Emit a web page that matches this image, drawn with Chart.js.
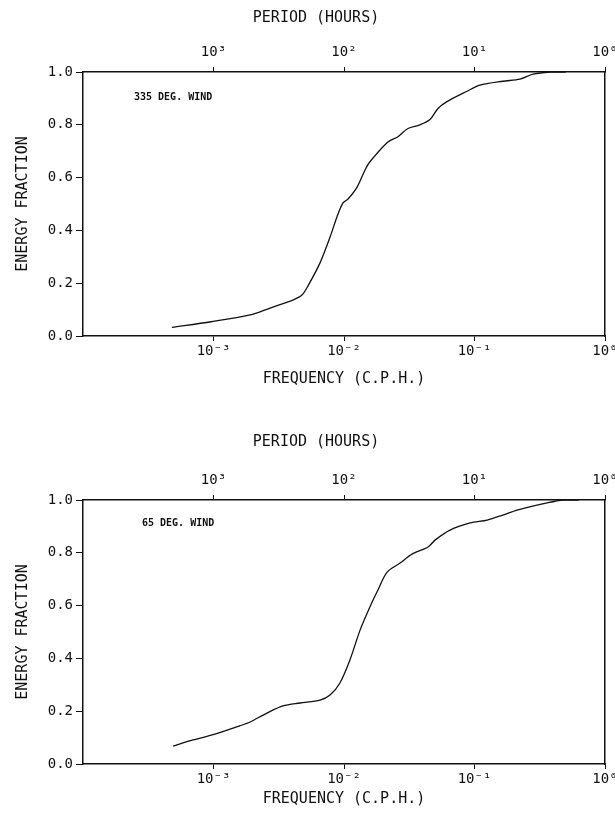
<!DOCTYPE html>
<html>
<head>
<meta charset="utf-8">
<script src="https://cdn.jsdelivr.net/npm/chart.js@4.4.1/dist/chart.umd.min.js"></script>
<style>
    html, body { margin: 0; padding: 0; background: #fff; }
    #wrap { position: relative; width: 615px; height: 820px; }
    canvas { position: absolute; left: 0; }
    #topChart { top: 0; }
    #bottomChart { top: 410px; }
</style>
</head>
<body>
<div id="wrap">
    <canvas id="topChart" width="615" height="410"></canvas>
    <canvas id="bottomChart" width="615" height="410"></canvas>
</div>

<script>
/* =========================
   DATA
========================= */

// 335 deg. wind : frequency (c.p.h.) / cumulative energy fraction
const freq335 = [0.00048, 0.00096, 0.001905, 0.00271, 0.00406, 0.00476, 0.0053, 0.00655, 0.00782,
    0.00883, 0.00982, 0.01074, 0.0126, 0.0145, 0.0158, 0.0217, 0.0259, 0.0309, 0.0382, 0.0456,
    0.0525, 0.0615, 0.0877, 0.110, 0.165, 0.223, 0.281, 0.379, 0.50];
const energy335 = [0.033, 0.054, 0.080, 0.106, 0.136, 0.155, 0.19, 0.277, 0.375,
    0.451, 0.504, 0.519, 0.564, 0.629, 0.66, 0.735, 0.755, 0.786, 0.80, 0.82,
    0.862, 0.888, 0.927, 0.95, 0.965, 0.973, 0.992, 1.0, 1.0];

// 65 deg. wind
const freq65 = [0.00049, 0.000697, 0.00101, 0.0016, 0.001905, 0.00257, 0.00341, 0.0046, 0.00655,
    0.00782, 0.00931, 0.0111, 0.0133, 0.0158, 0.0182, 0.0214, 0.0269, 0.0332, 0.0441,
    0.0498, 0.0649, 0.0925, 0.125, 0.165, 0.212, 0.36, 0.476, 0.63];
const energy65 = [0.068, 0.091, 0.112, 0.145, 0.159, 0.193, 0.22, 0.231, 0.242,
    0.261, 0.307, 0.394, 0.508, 0.595, 0.659, 0.727, 0.761, 0.795, 0.822,
    0.848, 0.886, 0.913, 0.924, 0.943, 0.962, 0.989, 1.0, 1.0];

// axis ticks
const freqTicks = [0.001, 0.01, 0.1, 1];
const freqLabels = ["10\u207B\u00B3", "10\u207B\u00B2", "10\u207B\u00B9", "10\u2070"];
const periodLabels = ["10\u00B3", "10\u00B2", "10\u00B9", "10\u2070"];
const energyTicks = [0, 0.2, 0.4, 0.6, 0.8, 1.0];

/* =========================
   SHARED STYLE
========================= */

const INK = "#111";
const MONO = "'DejaVu Sans Mono', 'Liberation Mono', monospace";

function textPlugin(title, titleY, note, noteDx, noteDy) {
    return {
        id: "texts",
        afterDraw(chart) {
            const ctx = chart.ctx;
            const area = chart.chartArea;
            ctx.save();
            ctx.fillStyle = INK;
            ctx.textBaseline = "middle";
            ctx.textAlign = "center";
            ctx.font = "15px " + MONO;
            ctx.fillText(title, 316, titleY);
            ctx.textAlign = "left";
            ctx.font = "bold 10px " + MONO;
            ctx.fillText(note, area.left + noteDx, area.top + noteDy);
            ctx.restore();
        }
    };
}

function makePanel(canvasId, xs, ys, sizes) {

    const points = xs.map((x, i) => ({ x: x, y: ys[i] }));

    return new Chart(document.getElementById(canvasId), {
        type: "line",
        data: {
            datasets: [{
                data: points,
                borderColor: INK,
                borderWidth: 1.3,
                pointRadius: 0,
                fill: false,
                tension: 0.3
            }]
        },
        options: {
            responsive: false,
            animation: false,
            devicePixelRatio: 1,
            layout: { padding: { left: 0, right: 10, top: 0, bottom: 0 } },
            plugins: { legend: { display: false }, tooltip: { enabled: false } },
            scales: {
                x: {
                    type: "logarithmic",
                    position: "bottom",
                    min: 0.0001,
                    max: 1,
                    afterBuildTicks: s => { s.ticks = freqTicks.map(v => ({ value: v })); },
                    afterFit: s => { s.height = sizes.bottom; s.paddingLeft = 0; s.paddingRight = 0; },
                    ticks: {
                        autoSkip: false,
                        maxRotation: 0,
                        padding: 2,
                        color: INK,
                        font: { family: MONO, size: 14 },
                        callback: (v, i) => freqLabels[i]
                    },
                    grid: { drawOnChartArea: false, tickLength: 5, color: INK, tickWidth: 1 },
                    border: { color: INK, width: 1.5 },
                    title: {
                        display: true,
                        text: "FREQUENCY (C.P.H.)",
                        color: INK,
                        font: { family: MONO, size: 15 },
                        padding: { top: 0, bottom: sizes.titlePad }
                    }
                },
                x2: {
                    type: "logarithmic",
                    position: "top",
                    min: 0.0001,
                    max: 1,
                    afterBuildTicks: s => { s.ticks = freqTicks.map(v => ({ value: v })); },
                    afterFit: s => { s.height = sizes.top; s.paddingLeft = 0; s.paddingRight = 0; },
                    ticks: {
                        autoSkip: false,
                        maxRotation: 0,
                        padding: 6,
                        color: INK,
                        font: { family: MONO, size: 14 },
                        callback: (v, i) => periodLabels[i]
                    },
                    grid: { drawOnChartArea: false, tickLength: 5, color: INK, tickWidth: 1 },
                    border: { color: INK, width: 1.5 }
                },
                y: {
                    type: "linear",
                    position: "left",
                    min: 0,
                    max: 1,
                    afterBuildTicks: s => { s.ticks = energyTicks.map(v => ({ value: v })); },
                    afterFit: s => { s.width = 83; },
                    ticks: {
                        padding: 3,
                        color: INK,
                        font: { family: MONO, size: 14 },
                        callback: v => v.toFixed(1)
                    },
                    grid: { drawOnChartArea: false, tickLength: 7, color: INK, tickWidth: 1 },
                    border: { color: INK, width: 1.5 },
                    title: {
                        display: true,
                        text: "ENERGY FRACTION",
                        color: INK,
                        font: { family: MONO, size: 15 },
                        padding: { top: 14, bottom: 0 }
                    }
                },
                y2: {
                    type: "linear",
                    position: "right",
                    min: 0,
                    max: 1,
                    afterFit: s => { s.width = 0; },
                    ticks: { display: false },
                    grid: { display: false },
                    border: { display: true, color: INK, width: 1.5 }
                }
            }
        },
        plugins: [textPlugin(sizes.title, sizes.titleY, sizes.note, sizes.noteDx, sizes.noteDy)]
    });
}

/* =========================
   PANELS
========================= */

makePanel("topChart", freq335, energy335, {
    top: 72, bottom: 74, titlePad: 22,
    title: "PERIOD (HOURS)", titleY: 18,
    note: "335 DEG. WIND", noteDx: 51, noteDy: 25
});

makePanel("bottomChart", freq65, energy65, {
    top: 90, bottom: 56, titlePad: 12,
    title: "PERIOD (HOURS)", titleY: 32,
    note: "65 DEG. WIND", noteDx: 59, noteDy: 23
});
</script>
</body>
</html>
